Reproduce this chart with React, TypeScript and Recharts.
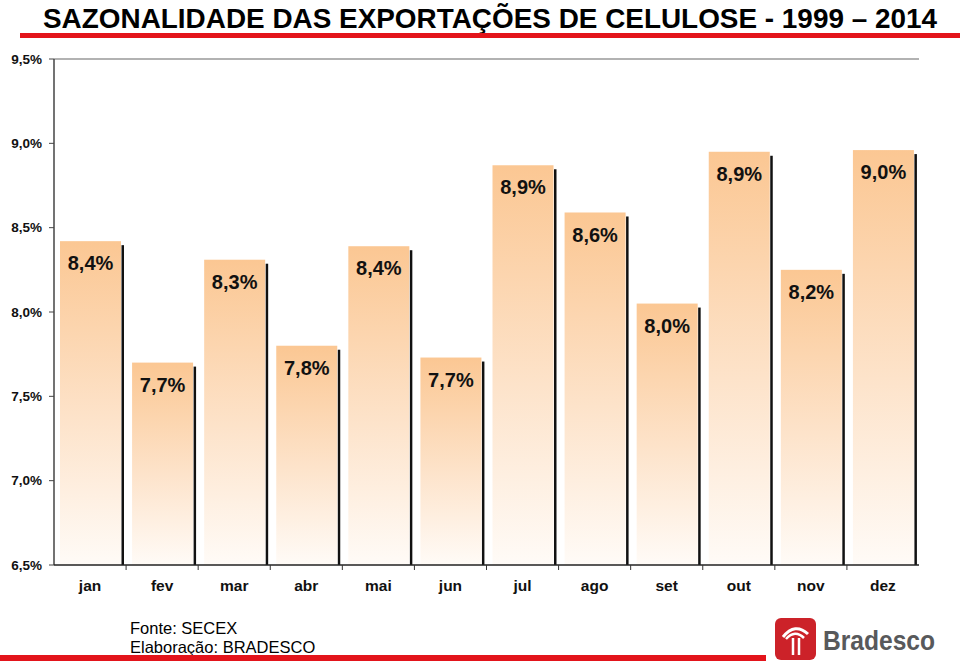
import { BarChart, Bar, XAxis, YAxis, LabelList, ReferenceLine } from 'recharts';

const months = ['jan', 'fev', 'mar', 'abr', 'mai', 'jun', 'jul', 'ago', 'set', 'out', 'nov', 'dez'];
const shares = [8.42, 7.7, 8.31, 7.8, 8.39, 7.73, 8.87, 8.59, 8.05, 8.95, 8.25, 8.96];
const shareLabels = ['8,4%', '7,7%', '8,3%', '7,8%', '8,4%', '7,7%', '8,9%', '8,6%', '8,0%', '8,9%', '8,2%', '9,0%'];
const yTicks = [6.5, 7, 7.5, 8, 8.5, 9, 9.5];

const data = months.map((m, i) => ({ month: m, share: shares[i], label: shareLabels[i] }));

const W = 960;
const H = 661;
const PLOT_LEFT = 54;
const PLOT_RIGHT = 919;
const halfBand = (PLOT_RIGHT - PLOT_LEFT) / months.length / 2;
const FONT = '"Liberation Sans", Arial, sans-serif';

const fmtPct = (v: number) => v.toFixed(1).replace('.', ',') + '%';

const ShadowBar = (props: any) => {
  const { x, y, width, height } = props;
  if (!height || height <= 0) return null;
  return (
    <g>
      <rect x={x + width + 0.5} y={y + 4} width={2.5} height={height - 4} fill="#111" />
      <rect x={x} y={y} width={width} height={height} fill="url(#peach)" />
    </g>
  );
};

const MonthTick = (props: any) => {
  const { x, y, payload, index } = props;
  return (
    <g>
      {index < months.length - 1 && (
        <line x1={x + halfBand} x2={x + halfBand} y1={y} y2={y + 5} stroke="#333" />
      )}
      <text x={x} y={y + 26} textAnchor="middle" fontFamily={FONT} fontSize={15.5} fontWeight="bold" fill="#111">
        {payload.value}
      </text>
    </g>
  );
};

export default function App() {
  return (
    <div style={{ position: 'absolute', left: 0, top: 0, width: W, height: H, background: '#fff', overflow: 'hidden' }}>
      <BarChart
        width={W}
        height={H}
        data={data}
        margin={{ top: 59, right: W - PLOT_RIGHT, bottom: 66, left: 0 }}
        barSize={61}
      >
        <defs>
          <linearGradient id="peach" x1="0" y1="0" x2="0" y2="1">
            <stop offset="0%" stopColor="#FBC793" />
            <stop offset="55%" stopColor="#FDE3CA" />
            <stop offset="100%" stopColor="#FFFBF7" />
          </linearGradient>
        </defs>
        <ReferenceLine y={9.5} stroke="#999" strokeWidth={1.5} />
        <YAxis
          width={PLOT_LEFT}
          domain={[6.5, 9.5]}
          ticks={yTicks}
          tickFormatter={fmtPct}
          axisLine={{ stroke: '#444', strokeWidth: 1.5 }}
          tickLine={{ stroke: '#444' }}
          tickSize={5}
          tickMargin={7}
          tick={{ fontFamily: FONT, fontSize: 13.5, fontWeight: 'bold', fill: '#111' }}
          allowDataOverflow
        />
        <XAxis
          dataKey="month"
          height={30}
          axisLine={{ stroke: '#222', strokeWidth: 1.5 }}
          tickLine={false}
          tickSize={0}
          tickMargin={0}
          tick={<MonthTick />}
          interval={0}
        />
        <Bar dataKey="share" shape={<ShadowBar />} isAnimationActive={false}>
          <LabelList
            dataKey="label"
            position="insideTop"
            offset={15}
            style={{ fontFamily: FONT, fontSize: 20, fontWeight: 'bold', fill: '#111' }}
          />
        </Bar>
      </BarChart>
      <svg width={W} height={H} style={{ position: 'absolute', left: 0, top: 0, pointerEvents: 'none' }}>
        <text x={43} y={28} fontFamily={FONT} fontSize={28} fontWeight="bold" fill="#000" textLength={894} lengthAdjust="spacingAndGlyphs">
          SAZONALIDADE DAS EXPORTAÇÕES DE CELULOSE - 1999 – 2014
        </text>
        <rect x={20} y={33} width={940} height={5} fill="#E3141B" />
        <text x={130} y={634} fontFamily={FONT} fontSize={16.5} fill="#000">Fonte: SECEX</text>
        <text x={130} y={653} fontFamily={FONT} fontSize={16.5} fill="#000">Elaboração: BRADESCO</text>
        <rect x={0} y={655} width={766} height={6} fill="#E3141B" />
        <rect x={775} y={618} width={41} height={42} rx={6} fill="#CC2229" />
        <path d="M783 637 Q795 622 808 634" stroke="#fff" strokeWidth={3} fill="none" />
        <path d="M786 639 Q795 629 804 638" stroke="#fff" strokeWidth={2.5} fill="none" />
        <line x1={793} y1={638} x2={793} y2={655} stroke="#fff" strokeWidth={2.5} />
        <line x1={799} y1={638} x2={799} y2={655} stroke="#fff" strokeWidth={2.5} />
        <text x={823} y={650} fontFamily={FONT} fontSize={28} fontWeight="bold" fill="#58595B" textLength={112} lengthAdjust="spacingAndGlyphs">
          Bradesco
        </text>
      </svg>
    </div>
  );
}
